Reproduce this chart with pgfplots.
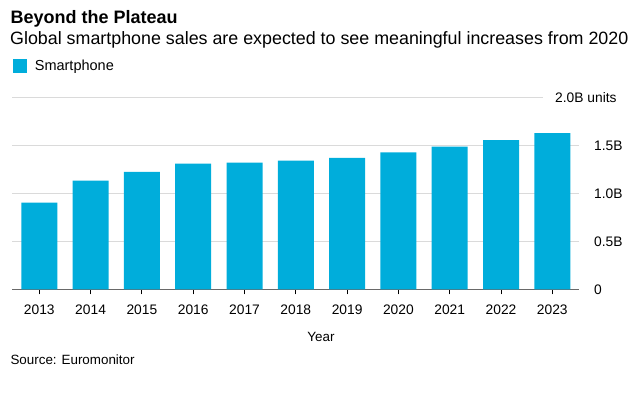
\documentclass[border=0pt]{standalone}
\usepackage{fontspec}
\setmainfont{Liberation Sans}
\usepackage{pgfplots}
\usepackage{pgfplotstable}
\pgfplotsset{compat=1.18}
\definecolor{barblue}{RGB}{0,173,219}
\definecolor{gridgray}{RGB}{218,218,218}
\definecolor{axisgray}{RGB}{105,105,105}
\pgfplotstableread{
idx year units
0 2013 0.906
1 2014 1.135
2 2015 1.225
3 2016 1.312
4 2017 1.323
5 2018 1.344
6 2019 1.371
7 2020 1.430
8 2021 1.490
9 2022 1.558
10 2023 1.630
}\salestable
\begin{document}
\begin{tikzpicture}
\useasboundingbox (0pt,0pt) rectangle (642pt,-393pt);
\node[anchor=base west, inner sep=0pt, font=\fontsize{18}{21}\selectfont\bfseries] at (10.4pt,-23.3pt) {Beyond the Plateau};
\node[anchor=base west, inner sep=0pt, font=\fontsize{17.85}{20}\selectfont] at (10pt,-45pt) {Global smartphone sales are expected to see meaningful increases from 2020};
\draw[gridgray, line width=1pt] (12pt,-97.7pt) -- (543pt,-97.7pt);
\node[anchor=west, inner sep=0pt, font=\fontsize{13.8}{16}\selectfont] at (555pt,-97.7pt) {2.0B units};
\begin{axis}[
  at={(12pt,-289.3pt)}, anchor=south west,
  scale only axis, width=567.3pt, height=191.6pt,
  xmin=-0.532, xmax=10.526, ymin=0, ymax=2,
  ybar, bar width=36pt,
  axis x line*=bottom, axis y line*=right,
  x axis line style={axisgray, line width=1.3pt},
  y axis line style={draw=none},
  xtick={0,1,2,3,4,5,6,7,8,9,10},
  xticklabels={2013,2014,2015,2016,2017,2018,2019,2020,2021,2022,2023},
  x tick style={black, line width=0.9pt},
  tick align=outside, major tick length=5pt,
  ytick={0,0.5,1,1.5}, yticklabels={0,0.5B,1.0B,1.5B},
  y tick style={draw=none},
  ymajorgrids, grid style={gridgray, line width=1pt},
  yticklabel style={anchor=west, inner sep=0pt, xshift=9.7pt},
  xticklabel style={anchor=base, inner sep=0pt, yshift=-20pt},
  tick label style={font=\fontsize{13.8}{16}\selectfont},
  legend style={at={(rel axis cs:0.002,1.2)}, anchor=north west, draw=none, fill=none,
    inner sep=0pt, outer sep=0pt, column sep=8.3pt,
    font=\fontsize{14.5}{17}\selectfont, nodes={inner sep=0pt, anchor=west}},
  legend image code/.code={\fill[barblue] (0pt,-6.7pt) rectangle (13.4pt,6.7pt);},
]
\addplot[fill=barblue, draw=none] table[x=idx, y=units] {\salestable};
\addlegendentry{Smartphone}
\end{axis}
\node[anchor=base, inner sep=0pt, font=\fontsize{13.4}{16}\selectfont] at (321pt,-341.7pt) {Year};
\node[anchor=base west, inner sep=0pt, font=\fontsize{13.4}{16}\selectfont] at (10.3pt,-364pt) {Source: Euromonitor};
\end{tikzpicture}
\end{document}
